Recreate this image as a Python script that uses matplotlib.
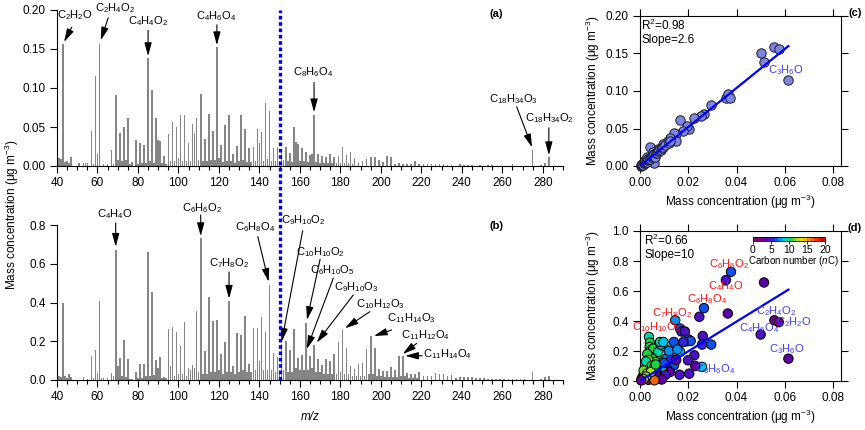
import numpy as np
import matplotlib
matplotlib.use("Agg")
import matplotlib.pyplot as plt
from matplotlib.colors import ListedColormap, Normalize
from matplotlib.ticker import MultipleLocator, FormatStrFormatter

plt.rcParams['font.family'] = ['Liberation Sans', 'DejaVu Sans']
plt.rcParams['mathtext.fontset'] = 'custom'
plt.rcParams['mathtext.rm'] = 'Liberation Sans'
plt.rcParams['mathtext.it'] = 'Liberation Sans:italic'
plt.rcParams['mathtext.bf'] = 'Liberation Sans:bold'
plt.rcParams['font.size'] = 8.5

# ---- spectrum (a) ----
mz_a = [41, 42, 43, 44, 45, 46, 47, 51, 53, 54, 55, 57, 58, 59, 60, 61, 63, 65, 67, 68,
        69, 70, 71, 72, 73, 74, 75, 76, 77, 79, 80, 81, 82, 83, 84, 85, 86, 87, 88, 89,
        90, 91, 92, 93, 94, 95, 96, 97, 98, 99, 100, 101, 102, 103, 104, 105, 106, 107, 108, 109,
        110, 111, 112, 113, 114, 115, 116, 117, 118, 119, 120, 121, 122, 123, 124, 125, 126, 127, 128, 129,
        130, 131, 132, 133, 134, 135, 136, 137, 138, 139, 140, 141, 142, 143, 144, 145, 146, 147, 148, 149,
        150, 151, 152, 153, 154, 155, 156, 157, 158, 159, 160, 161, 162, 163, 164, 165, 166, 167, 168, 169,
        170, 171, 172, 173, 174, 175, 176, 177, 178, 179, 180, 181, 182, 183, 184, 185, 186, 187, 189, 191,
        193, 195, 197, 199, 201, 203, 205, 207, 209, 211, 213, 215, 217, 219, 221, 223, 225, 227, 229, 231,
        233, 235, 239, 241, 243, 245, 249, 253, 255, 265, 275, 279, 281, 283]
conc_a = [0.010, 0.009, 0.156, 0.005, 0.006, 0.004, 0.011, 0.004, 0.004, 0.004, 0.004, 0.045, 0.003, 0.115, 0.016, 0.157, 0.003, 0.002, 0.020, 0.003,
          0.091, 0.008, 0.042, 0.006, 0.050, 0.008, 0.061, 0.003, 0.005, 0.033, 0.003, 0.029, 0.004, 0.027, 0.004, 0.138, 0.006, 0.097, 0.004, 0.062,
          0.033, 0.032, 0.004, 0.013, 0.003, 0.041, 0.006, 0.056, 0.007, 0.050, 0.010, 0.065, 0.007, 0.066, 0.006, 0.029, 0.006, 0.054, 0.042, 0.061,
          0.008, 0.092, 0.007, 0.035, 0.006, 0.067, 0.008, 0.045, 0.008, 0.152, 0.010, 0.027, 0.005, 0.052, 0.006, 0.066, 0.006, 0.015, 0.004, 0.026,
          0.006, 0.065, 0.008, 0.047, 0.005, 0.023, 0.005, 0.024, 0.007, 0.048, 0.030, 0.043, 0.007, 0.081, 0.009, 0.070, 0.006, 0.023, 0.006, 0.024,
          0.006, 0.019, 0.008, 0.025, 0.006, 0.017, 0.005, 0.050, 0.031, 0.028, 0.006, 0.023, 0.006, 0.018, 0.005, 0.014, 0.016, 0.066, 0.005, 0.015,
          0.004, 0.013, 0.004, 0.012, 0.004, 0.015, 0.004, 0.012, 0.004, 0.013, 0.004, 0.024, 0.004, 0.014, 0.004, 0.018, 0.003, 0.010, 0.004, 0.006,
          0.009, 0.012, 0.011, 0.008, 0.005, 0.013, 0.012, 0.003, 0.004, 0.003, 0.003, 0.002, 0.006, 0.002, 0.002, 0.002, 0.002, 0.003, 0.003, 0.002,
          0.001, 0.001, 0.003, 0.001, 0.001, 0.001, 0.001, 0.001, 0.001, 0.002, 0.020, 0.001, 0.004, 0.012]

# ---- spectrum (b) ----
mz_b = [41, 42, 43, 44, 45, 46, 47, 53, 55, 57, 58, 59, 60, 61, 62, 63, 65, 67, 68, 69,
        70, 71, 72, 73, 74, 75, 76, 77, 79, 80, 81, 82, 83, 84, 85, 86, 87, 88, 89, 90,
        91, 92, 93, 94, 95, 96, 97, 98, 99, 100, 101, 102, 103, 104, 105, 106, 107, 108, 109, 110,
        111, 112, 113, 114, 115, 116, 117, 118, 119, 120, 121, 122, 123, 124, 125, 126, 127, 128, 129, 130,
        131, 132, 133, 134, 135, 136, 137, 138, 139, 140, 141, 142, 143, 144, 145, 146, 147, 148, 149, 150,
        151, 152, 153, 154, 155, 156, 157, 158, 159, 160, 161, 162, 163, 164, 165, 166, 167, 168, 169, 170,
        171, 172, 173, 174, 175, 176, 177, 178, 179, 180, 181, 182, 183, 184, 185, 186, 187, 188, 189, 190,
        191, 192, 193, 194, 195, 196, 197, 198, 199, 200, 201, 202, 203, 204, 205, 206, 207, 208, 209, 210,
        211, 212, 213, 214, 215, 216, 217, 218, 219, 221, 223, 225, 227, 229, 231, 233, 235, 237, 239, 241,
        243, 245, 247, 249, 251, 253, 255, 257, 259, 261, 263, 265, 267, 269, 271, 275, 279, 281, 283]
conc_b = [0.020, 0.015, 0.398, 0.020, 0.010, 0.031, 0.015, 0.014, 0.005, 0.124, 0.010, 0.153, 0.035, 0.410, 0.010, 0.012, 0.010, 0.038, 0.020, 0.672,
          0.072, 0.112, 0.020, 0.207, 0.015, 0.109, 0.005, 0.005, 0.041, 0.010, 0.083, 0.010, 0.083, 0.020, 0.659, 0.020, 0.453, 0.025, 0.103, 0.060,
          0.121, 0.010, 0.015, 0.010, 0.262, 0.070, 0.274, 0.020, 0.246, 0.030, 0.174, 0.030, 0.300, 0.020, 0.062, 0.050, 0.076, 0.060, 0.355, 0.040,
          0.735, 0.030, 0.150, 0.030, 0.430, 0.040, 0.305, 0.040, 0.310, 0.050, 0.134, 0.030, 0.195, 0.040, 0.410, 0.040, 0.074, 0.030, 0.245, 0.040,
          0.231, 0.050, 0.332, 0.040, 0.081, 0.040, 0.269, 0.050, 0.267, 0.100, 0.326, 0.050, 0.248, 0.050, 0.490, 0.050, 0.140, 0.040, 0.120, 0.040,
          0.185, 0.050, 0.200, 0.040, 0.155, 0.040, 0.265, 0.060, 0.115, 0.050, 0.130, 0.050, 0.295, 0.050, 0.124, 0.060, 0.180, 0.040, 0.110, 0.040,
          0.077, 0.030, 0.107, 0.030, 0.100, 0.030, 0.134, 0.030, 0.198, 0.040, 0.260, 0.030, 0.167, 0.030, 0.072, 0.020, 0.058, 0.020, 0.082, 0.020,
          0.086, 0.020, 0.162, 0.030, 0.227, 0.030, 0.163, 0.020, 0.058, 0.020, 0.048, 0.015, 0.045, 0.015, 0.069, 0.015, 0.052, 0.015, 0.125, 0.020,
          0.122, 0.020, 0.034, 0.010, 0.030, 0.010, 0.030, 0.010, 0.040, 0.020, 0.020, 0.020, 0.035, 0.030, 0.030, 0.020, 0.025, 0.010, 0.015, 0.015,
          0.015, 0.015, 0.010, 0.008, 0.008, 0.006, 0.006, 0.006, 0.005, 0.005, 0.005, 0.005, 0.005, 0.005, 0.006, 0.043, 0.005, 0.015, 0.020]

# ---- scatter (c) ----
x_c = [0.0500, 0.0514, 0.0557, 0.0575, 0.0615, 0.0356, 0.0366, 0.0375, 0.0295, 0.0265,
       0.0251, 0.0223, 0.0166, 0.0204, 0.0196, 0.0180, 0.0150, 0.0140, 0.0150, 0.0124,
       0.0110, 0.0097, 0.0041, 0.0058, 0.0076, 0.0055,
       0.0003, 0.0005, 0.0008, 0.0010, 0.0010, 0.0012, 0.0015, 0.0018, 0.0020, 0.0020,
       0.0022, 0.0025, 0.0028, 0.0030, 0.0030, 0.0033, 0.0035, 0.0040, 0.0042, 0.0045,
       0.0050, 0.0052, 0.0060, 0.0062, 0.0068, 0.0070, 0.0075, 0.0080, 0.0085, 0.0090,
       0.0095, 0.0105, 0.0120, 0.0125]
y_c = [0.151, 0.138, 0.158, 0.156, 0.115, 0.090, 0.096, 0.091, 0.081, 0.069,
       0.066, 0.064, 0.061, 0.049, 0.053, 0.047, 0.043, 0.044, 0.033, 0.038,
       0.032, 0.030, 0.026, 0.0045, 0.023, 0.019,
       0.0005, 0.001, 0.0015, 0.002, 0.003, 0.002, 0.004, 0.006, 0.004, 0.005,
       0.008, 0.007, 0.006, 0.008, 0.012, 0.010, 0.009, 0.011, 0.009, 0.012,
       0.013, 0.015, 0.016, 0.012, 0.017, 0.018, 0.020, 0.021, 0.022, 0.024,
       0.026, 0.028, 0.031, 0.034]

# ---- scatter (d) ----
x_d = [0.0377, 0.0356, 0.0514, 0.0364, 0.0265, 0.0246, 0.0557, 0.0575, 0.0500, 0.0615,
       0.0146, 0.0166, 0.0172, 0.0186, 0.0140, 0.0196, 0.0200, 0.0210, 0.0260, 0.0295,
       0.0257, 0.0257, 0.0225, 0.0229, 0.0199, 0.0204, 0.0166, 0.0164, 0.0086,
       0.0037, 0.0041, 0.0040, 0.0044, 0.0055, 0.0069, 0.0076, 0.0097, 0.0086, 0.0083,
       0.0097, 0.0052, 0.0063, 0.0110, 0.0127, 0.0141, 0.0108, 0.0117, 0.0124, 0.0090,
       0.0069, 0.0028, 0.0020, 0.0014, 0.0007, 0.0040, 0.0055, 0.0044, 0.0073, 0.0080,
       0.0030, 0.0035, 0.0025, 0.0048, 0.0060, 0.0015, 0.0030, 0.0010, 0.0020, 0.0035,
       0.0100, 0.0130, 0.0150, 0.0120, 0.0155, 0.0180, 0.0105, 0.0090, 0.0060, 0.0045,
       0.0025, 0.0015, 0.0065, 0.0005]
y_d = [0.728, 0.673, 0.657, 0.450, 0.486, 0.428, 0.405, 0.392, 0.310, 0.149,
       0.405, 0.350, 0.330, 0.330, 0.260, 0.265, 0.278, 0.267, 0.300, 0.243,
       0.243, 0.094, 0.171, 0.100, 0.138, 0.049, 0.194, 0.042, 0.042,
       0.294, 0.256, 0.227, 0.205, 0.216, 0.171, 0.194, 0.234, 0.243, 0.260,
       0.260, 0.149, 0.127, 0.149, 0.127, 0.105, 0.094, 0.071, 0.060, 0.082,
       0.060, 0.105, 0.060, 0.038, 0.016, 0.027, 0.016, 0.016, 0.042, 0.027,
       0.180, 0.140, 0.130, 0.100, 0.090, 0.070, 0.050, 0.010, 0.020, 0.008,
       0.120, 0.150, 0.140, 0.200, 0.210, 0.260, 0.040, 0.010, 0.005, 0.060,
       0.030, 0.012, 0.110, 0.004]
nc_d = [6, 4, 3, 3, 6, 4, 2, 2, 4, 3,
        7, 6, 5, 4, 6, 7, 5, 6, 4, 6,
        5, 8, 4, 3, 4, 4, 8, 4, 15,
        9, 10, 10, 9, 10, 10, 9, 8, 8, 9,
        8, 10, 11, 7, 6, 6, 7, 5, 3, 9,
        11, 12, 13, 12, 2, 14, 19, 18, 4, 3,
        10, 11, 9, 10, 9, 11, 13, 3, 5, 2,
        6, 5, 3, 7, 7, 5, 4, 3, 16, 12,
        11, 13, 10, 2]

carbon_colors = ['#7a0a5c', '#800078', '#72008c', '#5c00a8', '#4a12c2', '#2f24d8', '#1050ea',
                 '#0090f2', '#00c4e4', '#00d8a4', '#22cf44', '#74d820', '#b4e010', '#e8e000',
                 '#f2c000', '#f29200', '#f06400', '#f03400', '#e81400', '#e00000']
cmap = ListedColormap(carbon_colors)
norm = Normalize(0, 20)

fig = plt.figure(figsize=(8.65, 4.3), dpi=100)
W, H = 865.0, 430.0
ax_a = fig.add_axes([57 / W, (H - 166) / H, 506 / W, 156 / H])
ax_b = fig.add_axes([57 / W, (H - 380) / H, 506 / W, 155 / H])
ax_c = fig.add_axes([640 / W, (H - 166) / H, 201 / W, 150 / H])
ax_d = fig.add_axes([640 / W, (H - 381) / H, 201 / W, 150 / H])

bar_col = '#858585'
lab_fs = 8


def spectrum_axes(ax, ymax, ystep, fmt):
    ax.set_xlim(40, 290)
    ax.set_ylim(0, ymax)
    for s in ['top', 'right']:
        ax.spines[s].set_visible(False)
    for s in ['left', 'bottom']:
        ax.spines[s].set_linewidth(0.8)
    ax.xaxis.set_major_locator(MultipleLocator(20))
    ax.xaxis.set_minor_locator(MultipleLocator(5))
    ax.yaxis.set_major_locator(MultipleLocator(ystep))
    ax.yaxis.set_major_formatter(FormatStrFormatter(fmt))
    ax.tick_params(which='major', direction='out', length=5, width=0.8, pad=3, labelsize=8.5)
    ax.tick_params(which='minor', direction='out', length=3, width=0.8)
    ax.tick_params(axis='y', which='minor', left=False)


def arrow(ax, tail, tip):
    ax.annotate('', xy=tip, xytext=tail,
                arrowprops=dict(arrowstyle='-|>,head_length=0.8,head_width=0.22', color='k',
                                lw=0.8, mutation_scale=10, shrinkA=0, shrinkB=0))


# (a)
ax_a.bar(mz_a, conc_a, width=0.8, color=bar_col, linewidth=0)
spectrum_axes(ax_a, 0.2, 0.05, '%.2f')
ann_a = [
    ('C$_2$H$_2$O', (48.9, 0.194), (47.3, 0.178), (43.5, 0.159)),
    ('C$_2$H$_4$O$_2$', (68.7, 0.202), (65.3, 0.190), (61.6, 0.161)),
    ('C$_4$H$_4$O$_2$', (84.8, 0.186), (85, 0.174), (85, 0.141)),
    ('C$_4$H$_6$O$_4$', (118.9, 0.192), (119, 0.181), (119, 0.155)),
    ('C$_8$H$_6$O$_4$', (166.6, 0.120), (167, 0.107), (167, 0.069)),
    ('C$_{18}$H$_{34}$O$_3$', (265.4, 0.086), (267.1, 0.076), (274.7, 0.024)),
    ('C$_{18}$H$_{34}$O$_2$', (283.2, 0.061), (283, 0.049), (283, 0.014)),
]
for lab, tpos, tail, tip in ann_a:
    ax_a.text(tpos[0], tpos[1], lab, ha='center', va='center', fontsize=lab_fs)
    arrow(ax_a, tail, tip)
ax_a.text(496 / W, (H - 14) / H, '(a)', transform=fig.transFigure, ha='center', va='center',
          fontsize=8, fontweight='bold')

# (b)
ax_b.bar(mz_b, conc_b, width=0.8, color=bar_col, linewidth=0)
spectrum_axes(ax_b, 0.8, 0.2, '%.1f')
ann_b = [
    ('C$_4$H$_4$O', (68.7, 0.857), (69, 0.81), (69, 0.688)),
    ('C$_6$H$_6$O$_2$', (111.5, 0.889), (111, 0.852), (111, 0.743)),
    ('C$_7$H$_8$O$_2$', (125, 0.602), (125, 0.557), (125, 0.42)),
    ('C$_6$H$_8$O$_4$', (137.8, 0.788), (139.2, 0.74), (144.6, 0.507)),
    ('C$_9$H$_{10}$O$_2$', (161.7, 0.826), (161.4, 0.771), (151, 0.198)),
    ('C$_{10}$H$_{10}$O$_2$', (170, 0.659), (170, 0.623), (163.5, 0.31)),
    ('C$_6$H$_{10}$O$_5$', (176.2, 0.568), (176.5, 0.525), (163.4, 0.16)),
    ('C$_9$H$_{10}$O$_3$', (188, 0.478), (186.4, 0.439), (168.3, 0.193)),
    ('C$_{10}$H$_{12}$O$_3$', (199.6, 0.39), (194.6, 0.353), (182.3, 0.267)),
    ('C$_{11}$H$_{14}$O$_3$', (215.2, 0.318), (205.3, 0.258), (196.6, 0.227)),
    ('C$_{11}$H$_{12}$O$_4$', (222.3, 0.232), (217.7, 0.189), (210.8, 0.134)),
]
for lab, tpos, tail, tip in ann_b:
    ax_b.text(tpos[0], tpos[1], lab, ha='center', va='center', fontsize=lab_fs)
    arrow(ax_b, tail, tip)
ax_b.text(220.6, 0.134, 'C$_{11}$H$_{14}$O$_4$', ha='left', va='center', fontsize=lab_fs)
arrow(ax_b, (220.4, 0.125), (212, 0.125))
ax_b.set_xlabel('m/z', fontstyle='italic', labelpad=6)
ax_b.text(497 / W, (H - 226) / H, '(b)', transform=fig.transFigure, ha='center', va='center',
          fontsize=8, fontweight='bold')

# dotted m/z 150 line spanning both spectra
ax_b.axvline(150, ymin=0, ymax=(380 - 10) / 155.0, clip_on=False, color='#0000ff',
             lw=2.4, linestyle=(0, (1.1, 0.8)), zorder=5)

fig.text(12 / W, 0.5, 'Mass concentration (\u03bcg m$^{-3}$)', rotation=90, ha='center', va='center',
         fontsize=8.5)


def scatter_axes(ax, ymax, ystep, fmt):
    ax.set_xlim(0, 0.0833)
    ax.set_ylim(0, ymax)
    for s in ax.spines.values():
        s.set_linewidth(0.8)
    ax.xaxis.set_major_locator(MultipleLocator(0.02))
    ax.xaxis.set_major_formatter(FormatStrFormatter('%.2f'))
    ax.yaxis.set_major_locator(MultipleLocator(ystep))
    ax.yaxis.set_major_formatter(FormatStrFormatter(fmt))
    ax.tick_params(which='major', direction='out', length=5, width=0.8, pad=3, labelsize=8.5,
                   top=True, right=True)
    ax.set_xlabel('Mass concentration (\u03bcg m$^{-3}$)', labelpad=3)


# (c)
ax_c.scatter(x_c, y_c, s=46, c='#7f86e2', edgecolors='#1a1a2a', linewidths=0.7, zorder=3, clip_on=False)
ax_c.plot([0, 0.0615], [0, 0.0615 * 2.6], color='#0000ff', lw=1.6, zorder=4)
scatter_axes(ax_c, 0.2, 0.05, '%.2f')
ax_c.text(0.005, 0.935, 'R$^2$=0.98', transform=ax_c.transAxes, ha='left', va='center')
ax_c.text(0.005, 0.84, 'Slope=2.6', transform=ax_c.transAxes, ha='left', va='center')
ax_c.text(0.0603, 0.128, 'C$_3$H$_6$O', color='#3a3aff', ha='center', va='center', fontsize=lab_fs)
ax_c.text(855 / W, (H - 13) / H, '(c)', transform=fig.transFigure, ha='center', va='center',
          fontsize=8, fontweight='bold')
fig.text(593 / W, (H - 91) / H, 'Mass concentration (\u03bcg m$^{-3}$)', rotation=90, ha='center',
         va='center', fontsize=8.5)

# (d)
sc = ax_d.scatter(x_d, y_d, s=46, c=nc_d, cmap=cmap, norm=norm, edgecolors='k', linewidths=0.7,
                  zorder=3, clip_on=False)
ax_d.plot([0, 0.0615], [0, 0.0615 * 9.9], color='#0000ff', lw=1.6, zorder=4)
scatter_axes(ax_d, 1.0, 0.2, '%.1f')
ax_d.text(0.02, 0.935, 'R$^2$=0.66', transform=ax_d.transAxes, ha='left', va='center')
ax_d.text(0.02, 0.84, 'Slope=10', transform=ax_d.transAxes, ha='left', va='center')
red_labels = [('C$_6$H$_6$O$_2$', 0.0368, 0.777), ('C$_4$H$_4$O', 0.0354, 0.635),
              ('C$_6$H$_8$O$_4$', 0.0279, 0.546), ('C$_7$H$_8$O$_2$', 0.0135, 0.454),
              ('C$_{10}$H$_{10}$O$_2$', 0.0069, 0.359)]
blue_labels = [('C$_2$H$_4$O$_2$', 0.0563, 0.466), ('C$_4$H$_6$O$_4$', 0.0496, 0.352),
               ('C$_2$H$_2$O', 0.0638, 0.390), ('C$_3$H$_6$O', 0.0610, 0.216),
               ('C$_8$H$_6$O$_4$', 0.0310, 0.082)]
for lab, xx, yy in red_labels:
    ax_d.text(xx, yy, lab, color='#ff1010', ha='center', va='center', zorder=6, fontsize=lab_fs)
for lab, xx, yy in blue_labels:
    ax_d.text(xx, yy, lab, color='#3a3aff', ha='center', va='center', zorder=6, fontsize=lab_fs)
ax_d.text(855 / W, (H - 228) / H, '(d)', transform=fig.transFigure, ha='center', va='center',
          fontsize=8, fontweight='bold')
fig.text(593 / W, (H - 306) / H, 'Mass concentration (\u03bcg m$^{-3}$)', rotation=90, ha='center',
         va='center', fontsize=8.5)

cax = fig.add_axes([753 / W, (H - 241) / H, 72 / W, 4 / H])
cb = fig.colorbar(sc, cax=cax, orientation='horizontal')
cb.set_ticks([0, 5, 10, 15, 20])
cb.outline.set_linewidth(0.6)
cax.tick_params(length=2, width=0.6, pad=1, labelsize=7.5)
cax.set_xlabel('Carbon number ($\\mathit{n}$C)', fontsize=7, labelpad=0)
cax.xaxis.set_label_coords(0.56, -3.3)

fig.savefig('out.png', dpi=100)
